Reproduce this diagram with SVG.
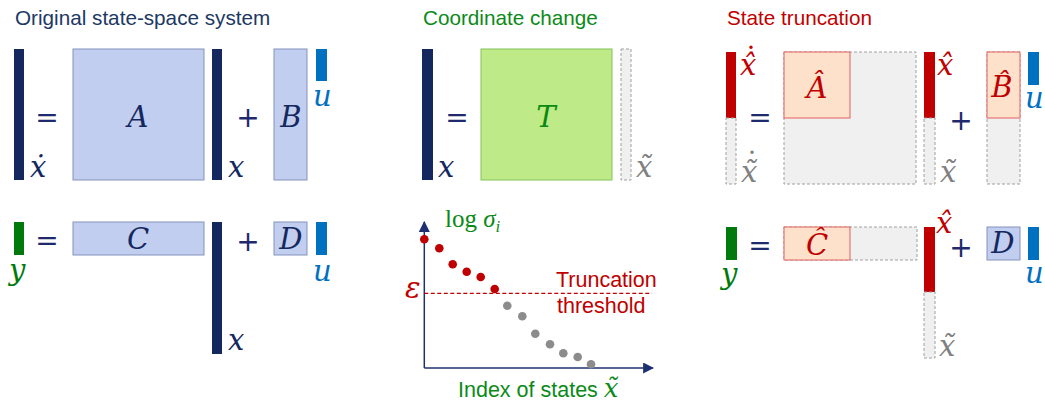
<svg xmlns="http://www.w3.org/2000/svg" width="1045" height="405" viewBox="0 0 1045 405">
<style>
.title{font-family:"Liberation Sans",Arial,sans-serif;font-size:20.7px}
.sans{font-family:"Liberation Sans",Arial,sans-serif;font-size:21.5px}
.m{font-family:"DejaVu Serif",serif;font-style:italic;font-size:29px}
.M{font-family:"DejaVu Serif",serif;font-style:italic;font-size:29px;text-anchor:middle}
.dot{font-family:"DejaVu Serif",serif;font-style:normal;font-size:29px;text-anchor:middle}
.op{font-family:"DejaVu Sans",sans-serif;font-size:28px;fill:#1F2A6E;text-anchor:middle}
.navy{fill:#14285F}
.blue{fill:#0070C0}
.green{fill:#007A0C}
.red{fill:#C00000}
.gray{fill:#808080}
.mb{fill:#C1CEEF;stroke:#8592BD;stroke-width:1}
.mo{fill:#FDE1CA;stroke:#E06060;stroke-width:1}
.mg{fill:#F0F0F0;stroke:#A0A0A0;stroke-width:1;stroke-dasharray:3 2}
.mt{fill:#BEEA88;stroke:#82C45A;stroke-width:1}
</style>
<defs>
<marker id="ah" viewBox="0 0 10 10" refX="9" refY="5" markerWidth="11" markerHeight="11" markerUnits="userSpaceOnUse" orient="auto">
<path d="M0,0 L10,5 L0,10 z" fill="#1F3070"/>
</marker>
</defs>

<!-- Titles -->
<text class="title" x="15" y="25" fill="#203864">Original state-space system</text>
<text class="title" x="423" y="25" fill="#0B8A18">Coordinate change</text>
<text class="title" x="727" y="25" fill="#C00000">State truncation</text>

<!-- Left panel, top equation -->
<g id="xdot-left">
<rect class="navy" x="14" y="49" width="10" height="131"/>
<text class="m navy" x="30" y="177">ẋ</text>
</g>
<text class="op" x="47" y="127">=</text>
<g id="A">
<rect class="mb" x="73" y="49" width="131" height="131"/>
<text class="M navy" x="138" y="127">A</text>
</g>
<g id="x-left-top">
<rect class="navy" x="212" y="49" width="10" height="131"/>
<text class="m navy" x="228" y="177">x</text>
</g>
<text class="op" x="248" y="127">+</text>
<g id="B">
<rect class="mb" x="274" y="49" width="33" height="131"/>
<text class="M navy" x="291" y="127">B</text>
</g>
<g id="u-left-top">
<rect class="blue" x="316" y="49" width="11" height="32"/>
<text class="m blue" x="313" y="106">u</text>
</g>

<!-- Left panel, bottom equation -->
<g id="y-left">
<rect class="green" x="14" y="222" width="10" height="33"/>
<text class="m green" x="9" y="280">y</text>
</g>
<text class="op" x="47" y="250">=</text>
<g id="C">
<rect class="mb" x="73" y="222" width="131" height="33"/>
<text class="M navy" x="138" y="249">C</text>
</g>
<g id="x-left-bottom">
<rect class="navy" x="212" y="222" width="10" height="132"/>
<text class="m navy" x="228" y="350">x</text>
</g>
<text class="op" x="248" y="251">+</text>
<g id="D">
<rect class="mb" x="274" y="222" width="33" height="33"/>
<text class="M navy" x="291" y="249">D</text>
</g>
<g id="u-left-bottom">
<rect class="blue" x="316" y="222" width="11" height="33"/>
<text class="m blue" x="313" y="281">u</text>
</g>

<!-- Middle panel -->
<g id="x-mid">
<rect class="navy" x="422" y="49" width="11" height="131"/>
<text class="m navy" x="438" y="177">x</text>
</g>
<text class="op" x="457" y="127">=</text>
<g id="T">
<rect class="mt" x="481" y="49" width="131" height="131"/>
<text class="M" x="546" y="127" fill="#0A8A10">T</text>
</g>
<g id="xtilde-mid">
<rect class="mg" x="621" y="49" width="10" height="131"/>
<text class="m gray" x="636" y="177">x̃</text>
</g>

<!-- Plot -->
<g id="connectors" stroke="#1F3070" stroke-width="1.5" fill="none">
<line x1="424.3" y1="368" x2="424.3" y2="222" marker-end="url(#ah)"/>
<line x1="424.3" y1="368" x2="653" y2="368" marker-end="url(#ah)"/>
</g>
<g id="threshold">
<line x1="424.3" y1="293.3" x2="652" y2="293.3" stroke="#C00000" stroke-width="1.2" stroke-dasharray="4 2.5"/>
<text class="m red" x="405" y="298">ε</text>
<text class="sans red" x="556" y="287">Truncation</text>
<text class="sans red" x="557" y="313">threshold</text>
</g>
<g id="dots">
<g fill="#C00000">
<circle cx="424.3" cy="239.3" r="4.3"/>
<circle cx="439.3" cy="248.3" r="4.3"/>
<circle cx="452.7" cy="264.3" r="4.3"/>
<circle cx="466.7" cy="271.7" r="4.3"/>
<circle cx="480.7" cy="277" r="4.3"/>
<circle cx="494.7" cy="289" r="4.3"/>
</g>
<g fill="#8C8C8C">
<circle cx="507.3" cy="305.7" r="4.3"/>
<circle cx="522.3" cy="316.3" r="4.3"/>
<circle cx="535.3" cy="333.7" r="4.3"/>
<circle cx="550" cy="344.3" r="4.3"/>
<circle cx="563.3" cy="353.3" r="4.3"/>
<circle cx="577.7" cy="357" r="4.3"/>
<circle cx="591" cy="364.3" r="4.3"/>
</g>
</g>
<g id="axis-labels">
<text x="445" y="227" fill="#0B8A18" font-family="'Liberation Serif',serif" font-size="25"><tspan>log </tspan><tspan font-style="italic">σ</tspan><tspan font-style="italic" font-size="17" dy="5">i</tspan></text>
<text class="sans" x="458" y="397" fill="#0B8A18">Index of states <tspan font-family="'DejaVu Serif',serif" font-style="italic" font-size="26">x̃</tspan></text>
</g>

<!-- Right panel, top equation -->
<g id="xhatdot">
<rect class="red" x="726" y="52" width="10" height="66"/>
<rect class="mg" x="726" y="118" width="10" height="66"/>
<text class="m red" x="740" y="75">x̂<tspan class="dot" x="751" y="69">˙</tspan></text>
<text class="m gray" x="741" y="182">x̃<tspan class="dot" x="752" y="174">˙</tspan></text>
</g>
<text class="op" x="760" y="127">=</text>
<g id="Ahat">
<rect class="mg" x="784" y="52" width="132" height="132"/>
<rect class="mo" x="784" y="52" width="66" height="66"/>
<text class="M red" x="817" y="98">Â</text>
</g>
<g id="xhat-top">
<rect class="red" x="924" y="52" width="11" height="66"/>
<rect class="mg" x="924" y="118" width="11" height="66"/>
<text class="m red" x="937" y="75">x̂</text>
<text class="m gray" x="940" y="182">x̃</text>
</g>
<text class="op" x="961" y="130">+</text>
<g id="Bhat">
<rect class="mg" x="987" y="52" width="33" height="132"/>
<rect class="mo" x="987" y="52" width="33" height="66"/>
<text class="M red" x="1002" y="97">B̂</text>
</g>
<g id="u-right-top">
<rect class="blue" x="1028" y="52" width="11" height="33"/>
<text class="m blue" x="1025" y="108">u</text>
</g>

<!-- Right panel, bottom equation -->
<g id="y-right">
<rect class="green" x="726" y="227" width="11" height="33"/>
<text class="m green" x="721" y="284">y</text>
</g>
<text class="op" x="760" y="255">=</text>
<g id="Chat">
<rect class="mg" x="784" y="227" width="133" height="33"/>
<rect class="mo" x="784" y="227" width="66" height="33"/>
<text class="M red" x="817" y="255">Ĉ</text>
</g>
<g id="xhat-bottom">
<rect class="red" x="924" y="227" width="11" height="65"/>
<rect class="mg" x="924" y="292" width="11" height="66"/>
<text class="m red" x="936" y="233">x̂</text>
<text class="m gray" x="939" y="356">x̃</text>
</g>
<text class="op" x="961" y="257">+</text>
<g id="D-right">
<rect class="mb" x="987" y="227" width="33" height="33"/>
<text class="M navy" x="1003" y="253">D</text>
</g>
<g id="u-right-bottom">
<rect class="blue" x="1028" y="227" width="11" height="33"/>
<text class="m blue" x="1025" y="283">u</text>
</g>
</svg>
